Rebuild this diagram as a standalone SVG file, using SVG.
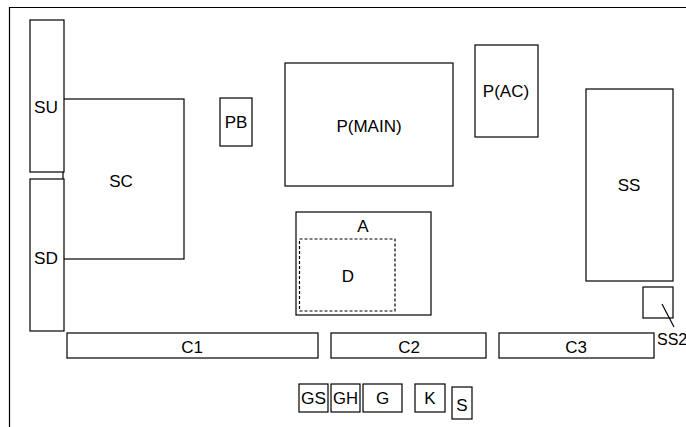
<svg xmlns="http://www.w3.org/2000/svg" width="686" height="427" viewBox="0 0 686 427">
<style>
rect{fill:#fff;stroke:#000;stroke-width:1.2}
text{font-family:"Liberation Sans",Arial,sans-serif;font-size:17px;fill:#000;text-anchor:middle}
.dash{fill:none;stroke-dasharray:3 2}
line,path{stroke:#000;stroke-width:1.2;fill:none}
</style>
<rect x="0" y="0" width="686" height="427" style="stroke:none"/>
<path d="M9.5 427 V7.5 H686"/>
<g id="SC"><rect x="63" y="99" width="121" height="160"/><text x="121" y="187">SC</text></g>
<g id="SU"><rect x="30" y="20" width="34" height="152"/><text x="46" y="113" textLength="24" lengthAdjust="spacingAndGlyphs">SU</text></g>
<g id="SD"><rect x="30" y="179" width="34" height="152"/><text x="46" y="264" textLength="24" lengthAdjust="spacingAndGlyphs">SD</text></g>
<g id="PB"><rect x="220" y="98" width="32" height="48"/><text x="236" y="128">PB</text></g>
<g id="PMAIN"><rect x="285" y="63" width="168" height="123"/><text x="369" y="132">P(MAIN)</text></g>
<g id="PAC"><rect x="475" y="45" width="63" height="92"/><text x="506" y="97">P(AC)</text></g>
<g id="A"><rect x="296" y="212" width="135" height="103"/><text x="363" y="232">A</text></g>
<g id="D"><rect class="dash" x="299.5" y="239" width="95.5" height="72"/><text x="348" y="282">D</text></g>
<g id="SS"><rect x="586" y="89" width="87" height="192"/><text x="629" y="191">SS</text></g>
<g id="SS2"><rect x="643" y="287" width="30" height="31"/><text x="657" y="345" style="text-anchor:start;font-size:16px">SS2</text></g>
<g id="C1"><rect x="67" y="333" width="251" height="25"/><text x="192" y="353">C1</text></g>
<g id="C2"><rect x="331" y="333" width="155" height="25"/><text x="409" y="353">C2</text></g>
<g id="C3"><rect x="499" y="333" width="155" height="25"/><text x="576" y="353">C3</text></g>
<g id="GS"><rect x="299" y="384" width="29" height="28"/><text x="313.5" y="404" textLength="25" lengthAdjust="spacingAndGlyphs">GS</text></g>
<g id="GH"><rect x="331" y="384" width="29" height="28"/><text x="345.5" y="404" textLength="25" lengthAdjust="spacingAndGlyphs">GH</text></g>
<g id="G"><rect x="363" y="384" width="39" height="28"/><text x="382.5" y="404">G</text></g>
<g id="K"><rect x="415" y="384" width="30" height="28"/><text x="430" y="404">K</text></g>
<g id="S"><rect x="452" y="387" width="20" height="32"/><text x="462" y="411">S</text></g>
<g id="connectors"><line x1="662" y1="304" x2="674" y2="327"/></g>
</svg>
